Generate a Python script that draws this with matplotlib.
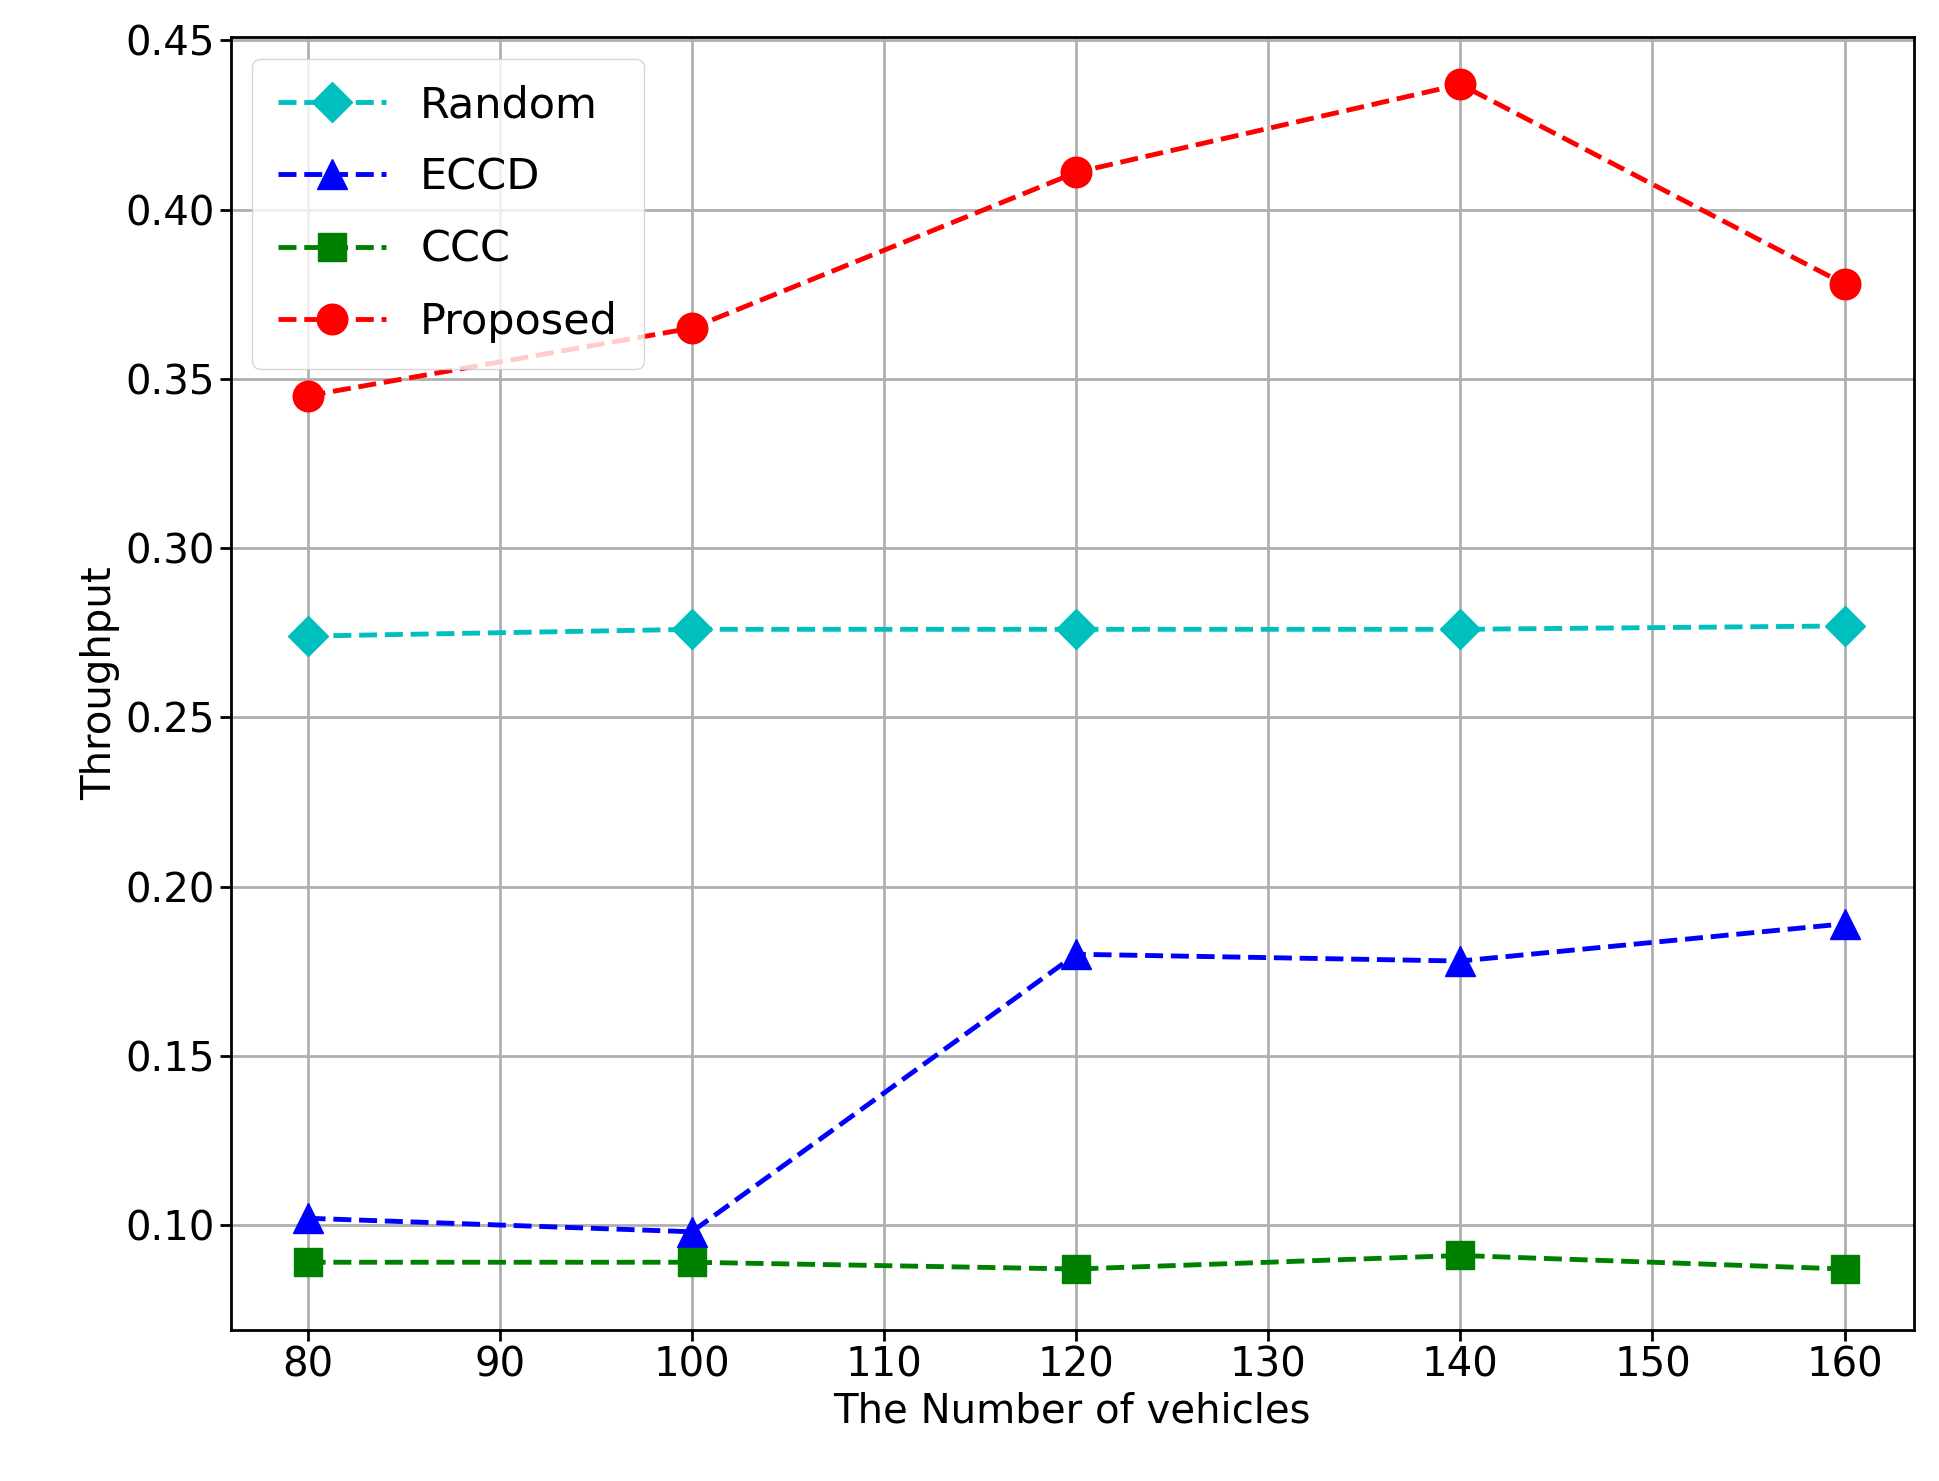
import matplotlib
matplotlib.use("Agg")
import matplotlib.pyplot as plt

vehicles = [80, 100, 120, 140, 160]
random_tp = [0.274, 0.276, 0.276, 0.276, 0.277]
eccd_tp = [0.102, 0.098, 0.180, 0.178, 0.189]
ccc_tp = [0.089, 0.089, 0.087, 0.091, 0.087]
proposed_tp = [0.345, 0.365, 0.411, 0.437, 0.378]

fig = plt.figure(figsize=(19.39, 14.81), dpi=100)
ax = fig.add_axes([0.119, 0.102, 0.868, 0.873])
kw = dict(ls="--", lw=3.5, ms=22)
ax.plot(vehicles, random_tp, marker="D", color="c", label="Random", ms=20, ls="--", lw=3.5)
ax.plot(vehicles, eccd_tp, marker="^", color="b", label="ECCD", **kw)
ax.plot(vehicles, ccc_tp, marker="s", color="g", label="CCC", ms=20, ls="--", lw=3.5)
ax.plot(vehicles, proposed_tp, marker="o", color="r", label="Proposed", **kw)

ax.set_xlim(76, 163.6)
ax.set_ylim(0.069, 0.451)
ax.set_xticks(range(80, 161, 10))
ax.grid(True, color="#b0b0b0", lw=2)
ax.tick_params(labelsize=29, width=2, length=8)
for s in ax.spines.values():
    s.set_linewidth(2)
ax.set_xlabel("The Number of vehicles", fontsize=29)
ax.set_ylabel("Throughput", fontsize=29)
ax.legend(loc="upper left", fontsize=31, handlelength=2.5, borderpad=0.6, labelspacing=0.7)
fig.savefig("out.png", dpi=100)
